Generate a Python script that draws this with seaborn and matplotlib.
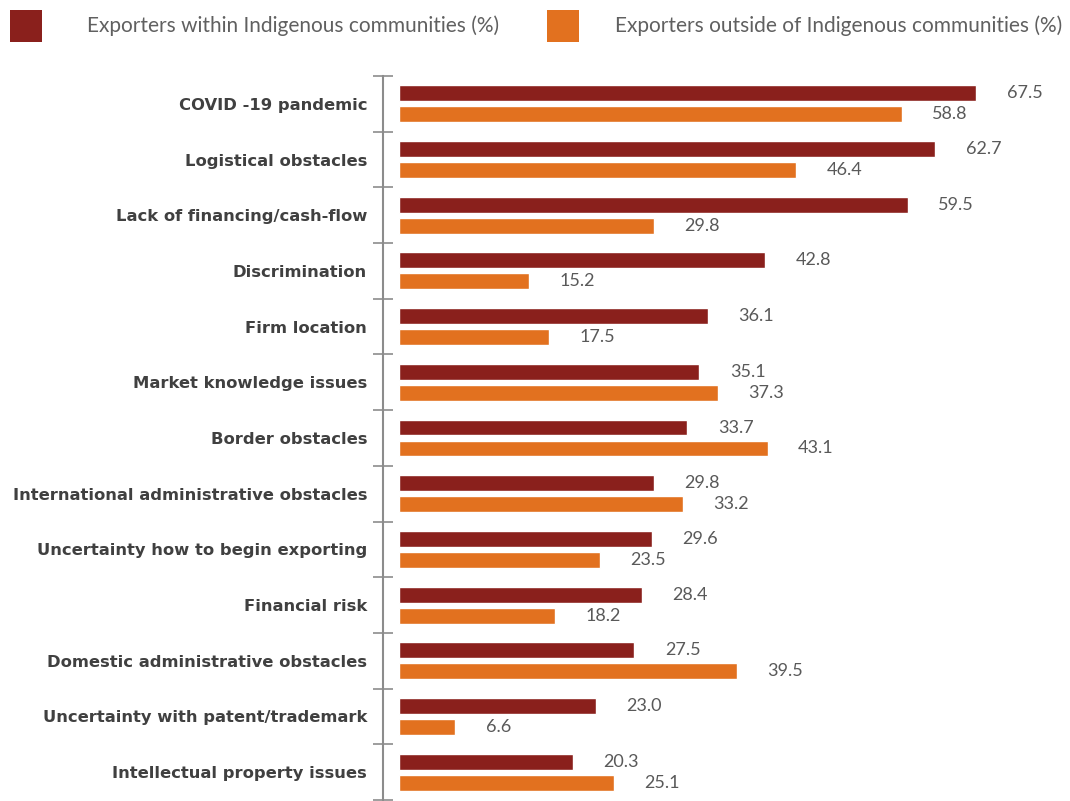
import matplotlib
matplotlib.use("Agg")
import matplotlib.pyplot as plt
import matplotlib.patches as mpatches
import seaborn as sns
import pandas as pd
import numpy as np

# Export barriers, share of exporters reporting each obstacle
categories = [
    "COVID -19 pandemic",
    "Logistical obstacles",
    "Lack of financing/cash-flow",
    "Discrimination",
    "Firm location",
    "Market knowledge issues",
    "Border obstacles",
    "International administrative obstacles",
    "Uncertainty how to begin exporting",
    "Financial risk",
    "Domestic administrative obstacles",
    "Uncertainty with patent/trademark",
    "Intellectual property issues",
]
within_pct = [67.5, 62.7, 59.5, 42.8, 36.1, 35.1, 33.7, 29.8, 29.6, 28.4, 27.5, 23.0, 20.3]
outside_pct = [58.8, 46.4, 29.8, 15.2, 17.5, 37.3, 43.1, 33.2, 23.5, 18.2, 39.5, 6.6, 25.1]
series_names = [
    "Exporters within Indigenous communities (%)",
    "Exporters outside of Indigenous communities (%)",
]
colors = ["#8A201C", "#E2711F"]

df = pd.DataFrame({
    "category": categories * 2,
    "value": within_pct + outside_pct,
    "group": [series_names[0]] * len(categories) + [series_names[1]] * len(categories),
})

sns.set_theme(style="white")
plt.rcParams["font.family"] = ["Lato", "DejaVu Sans"]

fig = plt.figure(figsize=(10.7, 8.01), dpi=100)
ax = fig.add_axes([383 / 1070, 1 - 800 / 801, (1060 - 383) / 1070, 724 / 801])

sns.barplot(
    data=df, y="category", x="value", hue="group", orient="h",
    order=categories, hue_order=series_names, palette=colors,
    width=0.754, gap=0.24, saturation=1, legend=False, ax=ax,
)

ax.set_xlim(-1.87, 77.3)
ax.set_ylim(len(categories) - 0.5, -0.5)
ax.set_xlabel("")
ax.set_ylabel("")
ax.set_xticks([])

for side in ["top", "right", "bottom"]:
    ax.spines[side].set_visible(False)
ax.spines["left"].set_color("#8C8C8C")
ax.spines["left"].set_linewidth(1.5)

# category labels at centres, tick marks at group boundaries
ax.set_yticks(np.arange(len(categories)))
ax.set_yticklabels(categories, fontsize=11.8, fontweight="bold", color="#404040",
                   family=["DejaVu Sans"])
ax.tick_params(axis="y", which="major", length=0, pad=11.5)
ax.set_yticks(np.arange(len(categories) + 1) - 0.5, minor=True)
ax.tick_params(axis="y", which="minor", direction="inout", length=15,
               width=1.2, color="#8C8C8C", left=True)

for cont in ax.containers:
    ax.bar_label(cont, fmt="%.1f", padding=22, fontsize=13, color="#595959")

# legend across the top
for i, (name, col) in enumerate(zip(series_names, colors)):
    x0 = [10, 547][i]
    fig.patches.append(mpatches.Rectangle(
        (x0 / 1070, 1 - 42 / 801), 32 / 1070, 32 / 801,
        transform=fig.transFigure, facecolor=col, edgecolor="none"))
    fig.text([87, 615][i] / 1070, 1 - 26 / 801, name, fontsize=15,
             color="#606060", va="center", ha="left")

fig.savefig("out.png", dpi=100)
